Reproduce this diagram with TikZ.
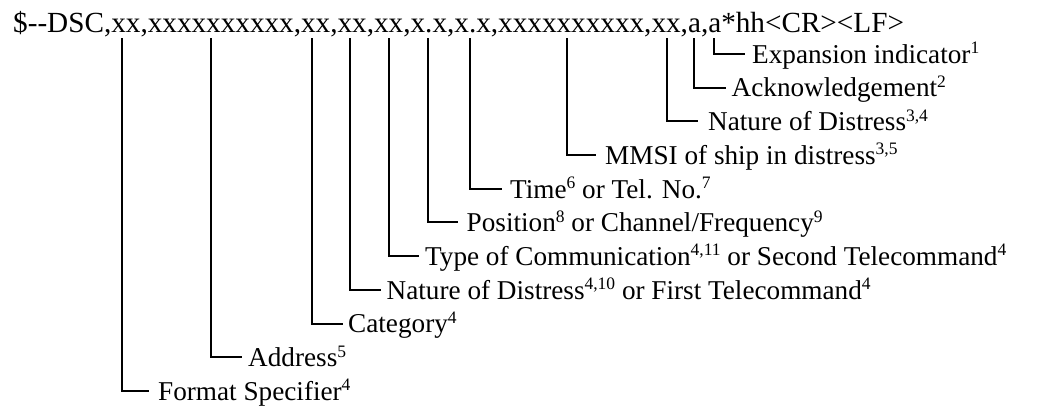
\documentclass[tikz,border=0pt]{standalone}
\usepackage{fontspec}
\setmainfont{Liberation Serif}
\newcommand{\sups}[1]{\raisebox{9.5pt}{\fontsize{17.5}{17.5}\selectfont #1}}
\begin{document}
\begin{tikzpicture}[x=1pt,y=-1pt,
  conn/.style={line width=2pt,line cap=rect},
  lbl/.style={anchor=west,inner xsep=0pt,inner ysep=0pt,text height=18.6pt,text depth=0pt,
    font=\fontsize{27.2}{30}\selectfont},
  hdr/.style={anchor=base west,inner sep=0pt,font=\fontsize{29.2}{32}\selectfont}]
\useasboundingbox (0,0) rectangle (1053,406);
\node[hdr] (head) at (13,33) {\$-{}-DSC,xx,xxxxxxxxxx,xx,xx,xx,x.x,x.x,xxxxxxxxxx,xx,a,a*hh<CR><LF>};
% tops of the connectors under the fields
\coordinate (cF) at (121.7,39);
\coordinate (cA) at (210.7,39);
\coordinate (cC) at (311.7,39);
\coordinate (cN) at (349.5,39);
\coordinate (cT) at (389,39);
\coordinate (cP) at (427.7,39);
\coordinate (cTi) at (470,39);
\coordinate (cM) at (566.7,39);
\coordinate (cD) at (666.7,39);
\coordinate (cAk) at (694,39);
\coordinate (cE) at (713.5,39);
% labels
\node[lbl] (lE) at (752,54) {Expansion indicator\sups{1}};
\node[lbl] (lAk) at (731.5,87.7) {Acknowledgement\sups{2}};
\node[lbl] (lD) at (708,121.4) {Nature of Distress\sups{3,4}};
\node[lbl] (lM) at (605,155.1) {MMSI of ship in distress\sups{3,5}};
\node[lbl] (lTi) at (510,188.8) {Time\sups{6} or Tel. No.\sups{7}};
\node[lbl] (lP) at (466.5,222.5) {Position\sups{8} or Channel/Frequency\sups{9}};
\node[lbl] (lT) at (425,256.2) {Type of Communication\sups{4,11} or Second Telecommand\sups{4}};
\node[lbl] (lN) at (386.5,289.9) {Nature of Distress\sups{4,10} or First Telecommand\sups{4}};
\node[lbl] (lC) at (348,323.6) {Category\sups{4}};
\node[lbl] (lA) at (248,357.3) {Address\sups{5}};
\node[lbl] (lF) at (158,391) {Format Specifier\sups{4}};
% connectors
\draw[conn] (cE) |- ([xshift=-8.5pt]lE.west);
\draw[conn] (cAk) |- ([xshift=-6.5pt]lAk.west);
\draw[conn] (cD) |- ([xshift=-11pt]lD.west);
\draw[conn] (cM) |- ([xshift=-10pt]lM.west);
\draw[conn] (cTi) |- ([xshift=-9.5pt]lTi.west);
\draw[conn] (cP) |- ([xshift=-10pt]lP.west);
\draw[conn] (cT) |- ([xshift=-7pt]lT.west);
\draw[conn] (cN) |- ([xshift=-6.5pt]lN.west);
\draw[conn] (cC) |- ([xshift=-6.5pt]lC.west);
\draw[conn] (cA) |- ([xshift=-7.5pt]lA.west);
\draw[conn] (cF) |- ([xshift=-10pt]lF.west);
\end{tikzpicture}
\end{document}
